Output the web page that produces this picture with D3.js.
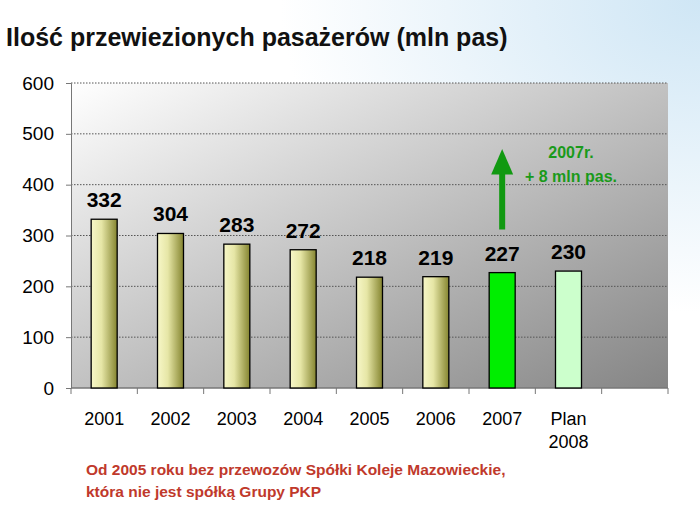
<!DOCTYPE html>
<html><head><meta charset="utf-8">
<script src="https://cdn.jsdelivr.net/npm/d3@7"></script>
<style>body{margin:0;background:#fff}</style></head>
<body><svg id="c" width="700" height="522"></svg>
<script>
const categories=["2001","2002","2003","2004","2005","2006","2007","Plan\n2008",""];
const values=[332,304,283,272,218,219,227,230,null];
const yTicks=[0,100,200,300,400,500,600];
const svg=d3.select("#c");
const defs=svg.append("defs");
const bg=defs.append("radialGradient").attr("id","bg").attr("cx","100%").attr("cy","0%").attr("r","60%");
bg.append("stop").attr("offset","0").attr("stop-color","#cfe6f5");
bg.append("stop").attr("offset","1").attr("stop-color","#ffffff");
const pg=defs.append("linearGradient").attr("id","pg").attr("x1","0").attr("y1","0").attr("x2","1").attr("y2","1");
pg.append("stop").attr("offset","0").attr("stop-color","#ffffff");
pg.append("stop").attr("offset","1").attr("stop-color","#858585");
const bgr=defs.append("linearGradient").attr("id","bar").attr("x1","0").attr("x2","1");
bgr.append("stop").attr("offset","0").attr("stop-color","#f7f7c8");
bgr.append("stop").attr("offset","0.4").attr("stop-color","#e6e6a6");
bgr.append("stop").attr("offset","1").attr("stop-color","#858530");
svg.append("rect").attr("width",700).attr("height",522).attr("fill","url(#bg)");
const m={l:71,r:668,t:83,b:388};
const x=d3.scaleBand().domain(d3.range(categories.length)).range([m.l,m.r]);
const y=d3.scaleLinear().domain([0,600]).range([m.b,m.t]);
svg.append("rect").attr("x",m.l).attr("y",m.t).attr("width",m.r-m.l).attr("height",m.b-m.t).attr("fill","url(#pg)");
svg.append("g").selectAll("line").data(yTicks.slice(1)).join("line")
 .attr("x1",m.l).attr("x2",m.r).attr("y1",d=>y(d)).attr("y2",d=>y(d))
 .attr("stroke","#555").attr("stroke-dasharray","1.5,1.5").attr("stroke-width",1);
const ya=svg.append("g").attr("transform",`translate(${m.l},0)`).call(d3.axisLeft(y).tickValues(yTicks).tickSize(5).tickPadding(12));
ya.selectAll("text").attr("font-family","Arial, Liberation Sans").attr("font-size",19).attr("fill","#000");
ya.select(".domain").attr("stroke","#777");ya.selectAll(".tick line").attr("stroke","#777");
const xa=svg.append("g").attr("transform",`translate(0,${m.b})`);
xa.append("line").attr("x1",m.l).attr("x2",m.r).attr("stroke","#777").attr("stroke-width",1.5);
xa.selectAll(".tk").data(d3.range(categories.length+1)).join("line")
 .attr("x1",i=>m.l+i*x.step()).attr("x2",i=>m.l+i*x.step()).attr("y2",6).attr("stroke","#777");
const fills=["url(#bar)","url(#bar)","url(#bar)","url(#bar)","url(#bar)","url(#bar)","#00ee00","#ccffcc"];
const bw=26;
values.forEach((v,i)=>{ if(v==null)return;
 const cx=x(i)+x.bandwidth()/2;
 svg.append("rect").attr("x",cx-bw/2).attr("y",y(v)).attr("width",bw).attr("height",y(0)-y(v))
  .attr("fill",fills[i]).attr("stroke","#000").attr("stroke-width",1.3);
 svg.append("text").attr("x",cx).attr("y",y(v)-12).attr("text-anchor","middle")
  .attr("font-family","Arial, Liberation Sans").attr("font-weight","bold").attr("font-size",21).text(v);
});
categories.forEach((c,i)=>{ const cx=x(i)+x.bandwidth()/2;
 c.split("\n").forEach((l,j)=>svg.append("text").attr("x",cx).attr("y",425+j*23).attr("text-anchor","middle")
  .attr("font-family","Arial, Liberation Sans").attr("font-size",18).text(l));
});
const ax=x(6)+x.bandwidth()/2;
svg.append("line").attr("x1",ax).attr("x2",ax).attr("y1",y(300)-6).attr("y2",y(450)+10).attr("stroke","#119911").attr("stroke-width",6);
svg.append("path").attr("d",`M${ax-11},${y(420)} L${ax},${y(470)} L${ax+11},${y(420)} Z`).attr("fill","#119911");
svg.append("text").attr("x",571).attr("y",158).attr("text-anchor","middle").attr("fill","#1a9a1a")
 .attr("font-family","Arial, Liberation Sans").attr("font-weight","bold").attr("font-size",16).text("2007r.");
svg.append("text").attr("x",571).attr("y",182).attr("text-anchor","middle").attr("fill","#1a9a1a")
 .attr("font-family","Arial, Liberation Sans").attr("font-weight","bold").attr("font-size",16).text("+ 8 mln pas.");
svg.append("text").attr("x",6).attr("y",46).attr("font-family","Arial, Liberation Sans").attr("font-weight","bold")
 .attr("font-size",25).attr("fill","#111").text("Ilość przewiezionych pasażerów (mln pas)");
svg.append("text").attr("x",86).attr("y",475).attr("font-family","Arial, Liberation Sans").attr("font-weight","bold")
 .attr("font-size",15.5).attr("fill","#c0392b").text("Od 2005 roku bez przewozów Spółki Koleje Mazowieckie,");
svg.append("text").attr("x",86).attr("y",497).attr("font-family","Arial, Liberation Sans").attr("font-weight","bold")
 .attr("font-size",15.5).attr("fill","#c0392b").text("która nie jest spółką Grupy PKP");
</script></body></html>
